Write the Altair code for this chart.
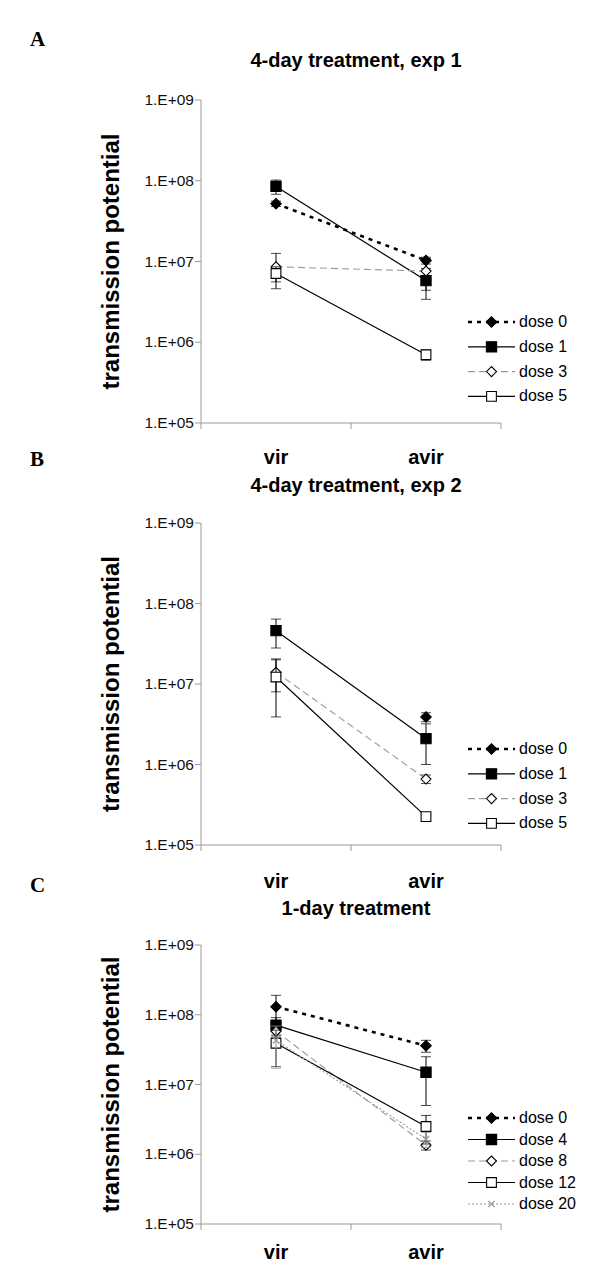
import altair as alt
import pandas as pd

CATS = ["vir", "avir"]
TICKS = [1e5, 1e6, 1e7, 1e8, 1e9]
TICK_LABELS = ["1.E+05", "1.E+06", "1.E+07", "1.E+08", "1.E+09"]

# Panel A: 4-day treatment, exp 1
A_DOSES = ["dose 0", "dose 1", "dose 3", "dose 5"]
A_VIR = [5.2e7, 8.5e7, 8.6e6, 7.1e6]
A_VIR_ERR = [4.0e6, 1.7e7, 4.0e6, 1.5e6]
A_AVIR = [1.03e7, 5.8e6, 7.6e6, 7.0e5]
A_AVIR_ERR = [1.0e6, 2.4e6, 3.2e6, 1.0e5]

# Panel B: 4-day treatment, exp 2
B_DOSES = ["dose 0", "dose 1", "dose 3", "dose 5"]
B_VIR = [None, 4.6e7, 1.4e7, 1.22e7]
B_VIR_ERR = [None, 1.8e7, 6.0e6, 8.3e6]
B_AVIR = [3.9e6, 2.1e6, 6.6e5, 2.25e5]
B_AVIR_ERR = [5.0e5, 1.1e6, 8.0e4, 2.0e4]

# Panel C: 1-day treatment
C_DOSES = ["dose 0", "dose 4", "dose 8", "dose 12", "dose 20"]
C_VIR = [1.3e8, 7.1e7, 5.8e7, 3.9e7, 4.3e7]
C_VIR_ERR = [6.0e7, 2.0e7, 1.0e7, 2.1e7, 2.6e7]
C_AVIR = [3.6e7, 1.5e7, 1.35e6, 2.5e6, 1.65e6]
C_AVIR_ERR = [7.0e6, 1.0e7, 2.0e5, 1.1e6, 4.0e5]

STYLE_KEYS_4 = ["d0", "fsq", "odia", "osq"]
STYLE_KEYS_5 = ["d0", "fsq", "odia", "osq", "xg"]

XSHAPE = "M-1,-1L1,1M-1,1L1,-1"
STY = {
    "d0": dict(lc="black", lw=2.6, dash=[4, 5], shape="diamond", fill="black", stroke="black", size=110, filled=True, ec="black"),
    "fsq": dict(lc="black", lw=1.2, dash=None, shape="square", fill="black", stroke="black", size=105, filled=True, ec="black"),
    "odia": dict(lc="#9a9a9a", lw=1.1, dash=[7, 4], shape="diamond", fill="white", stroke="black", size=100, filled=True, ec="black"),
    "osq": dict(lc="black", lw=1.2, dash=None, shape="square", fill="white", stroke="black", size=95, filled=True, ec="black"),
    "xg": dict(lc="#9a9a9a", lw=1.1, dash=[2, 2], shape=XSHAPE, fill="#999999", stroke="#999999", size=40, filled=False, ec="#999999"),
}

FONT = "Liberation Sans"
W = 300
XSCALE = alt.Scale(domain=CATS, type="band", paddingInner=0, paddingOuter=0)
YSCALE = alt.Scale(type="log", domain=[1e5, 1e9], nice=False)
AXIS_GREY = "#9a9a9a"


def mark_args(d):
    a = dict(color=d["lc"], strokeWidth=d["lw"])
    if d["dash"]:
        a["strokeDash"] = d["dash"]
    return a


def xenc(bp=0.5):
    return alt.X("cat:N", scale=XSCALE, bandPosition=bp, axis=None)


def yenc(field):
    return alt.Y(f"{field}:Q", scale=YSCALE, axis=None)


def panel(letter, title, doses, vir, vir_err, avir, avir_err, keys, h,
          leg_top, leg_step, letter_y, title_y, xlab_y):
    rows = []
    for i, dname in enumerate(doses):
        for cat, v, e in ((CATS[0], vir[i], vir_err[i]), (CATS[1], avir[i], avir_err[i])):
            if v is None:
                continue
            rows.append(dict(dose=dname, cat=cat, v=v, lo=v - e, hi=v + e, k=i))
    df = pd.DataFrame(rows)

    layers = []
    one = alt.Chart(pd.DataFrame({"z": [0]}))

    # --- axes drawn with the data scales ---
    tdf = pd.DataFrame({"t": TICKS, "lab": TICK_LABELS})
    tb = alt.Chart(tdf)
    layers.append(one.mark_rule(color=AXIS_GREY, strokeWidth=1).encode(
        x=alt.value(0), y=alt.value(0), y2=alt.value(h)))
    layers.append(one.mark_rule(color=AXIS_GREY, strokeWidth=1).encode(
        x=alt.value(0), x2=alt.value(W), y=alt.value(h)))
    layers.append(tb.mark_rule(color=AXIS_GREY, strokeWidth=1).encode(
        y=yenc("t"), x=alt.value(-6), x2=alt.value(0)))
    layers.append(tb.mark_text(align="right", baseline="middle", fontSize=15.5, font=FONT,
                               color="#111111").encode(
        y=yenc("t"), x=alt.value(-7), text="lab:N"))
    cdf = pd.DataFrame({"cat": CATS})
    cb = alt.Chart(cdf)
    layers.append(cb.mark_rule(color=AXIS_GREY, strokeWidth=1).encode(
        x=xenc(0), y=alt.value(h), y2=alt.value(h + 6)))
    layers.append(alt.Chart(pd.DataFrame({"cat": CATS[-1:]})).mark_rule(
        color=AXIS_GREY, strokeWidth=1).encode(
        x=xenc(1), y=alt.value(h), y2=alt.value(h + 6)))
    layers.append(cb.mark_text(align="center", baseline="middle", fontSize=20,
                               fontWeight="bold", font=FONT, color="black").encode(
        x=xenc(0.5), y=alt.value(h + xlab_y), text="cat:N"))

    # --- series ---
    for i, dname in enumerate(doses):
        d = STY[keys[i]]
        sdf = df[df["dose"] == dname]
        base = alt.Chart(sdf)
        layers.append(base.mark_line(**mark_args(d)).encode(x=xenc(), y=yenc("v")))
        layers.append(base.mark_rule(color=d["ec"], strokeWidth=1).encode(
            x=xenc(), y=yenc("lo"), y2="hi:Q"))
        for col in ("lo", "hi"):
            layers.append(base.mark_tick(color=d["ec"], size=10, thickness=1).encode(
                x=xenc(), y=yenc(col)))
        pt = dict(shape=d["shape"], size=d["size"], opacity=1, strokeWidth=1.1)
        if d["filled"]:
            pt.update(filled=True, fill=d["fill"], stroke=d["stroke"])
        else:
            pt.update(filled=False, stroke=d["stroke"], color=d["stroke"], strokeWidth=1.3)
        layers.append(base.mark_point(**pt).encode(x=xenc(), y=yenc("v")))

        # legend entry
        ly = leg_top + i * leg_step
        lb = alt.Chart(pd.DataFrame({"dose": [dname]}))
        layers.append(lb.mark_rule(**mark_args(d)).encode(
            x=alt.value(267), x2=alt.value(314), y=alt.value(ly)))
        layers.append(lb.mark_point(**pt).encode(x=alt.value(290.5), y=alt.value(ly)))
        layers.append(lb.mark_text(align="left", baseline="middle", fontSize=16, font=FONT,
                                   color="black").encode(
            x=alt.value(318), y=alt.value(ly), text="dose:N"))

    # panel letter, title, y title
    txt = alt.Chart(pd.DataFrame({"letter": [letter], "title": [title],
                                  "yt": ["transmission potential"]}))
    layers.append(txt.mark_text(align="left", baseline="middle", fontSize=21, fontWeight="bold",
                                font="Liberation Serif", color="black").encode(
        x=alt.value(-171), y=alt.value(letter_y), text="letter:N"))
    layers.append(txt.mark_text(align="center", baseline="middle", fontSize=20, fontWeight="bold",
                                font=FONT, color="black").encode(
        x=alt.value(155), y=alt.value(title_y), text="title:N"))
    layers.append(txt.mark_text(align="center", baseline="middle", fontSize=24, fontWeight="bold",
                                font=FONT, color="black", angle=270).encode(
        x=alt.value(-89), y=alt.value(h / 2), text="yt:N"))

    return alt.layer(*layers).properties(width=W, height=h)


pA = panel("A", "4-day treatment, exp 1", A_DOSES, A_VIR, A_VIR_ERR, A_AVIR, A_AVIR_ERR,
           STYLE_KEYS_4, 323, 222, 24.8, -60, -39, 35)
pB = panel("B", "4-day treatment, exp 2", B_DOSES, B_VIR, B_VIR_ERR, B_AVIR, B_AVIR_ERR,
           STYLE_KEYS_4, 322, 226, 24.8, -63, -37, 37)
pC = panel("C", "1-day treatment", C_DOSES, C_VIR, C_VIR_ERR, C_AVIR, C_AVIR_ERR,
           STYLE_KEYS_5, 279, 173, 21.5, -59, -36, 29)

chart = alt.vconcat(pA, pB, pC, spacing=100, bounds="flush").properties(
    padding={"left": 22, "top": 21, "right": 5, "bottom": 5},
    background="white",
).configure_view(stroke=None)

chart.save("out.html", embed_options={"renderer": "svg", "actions": False})
